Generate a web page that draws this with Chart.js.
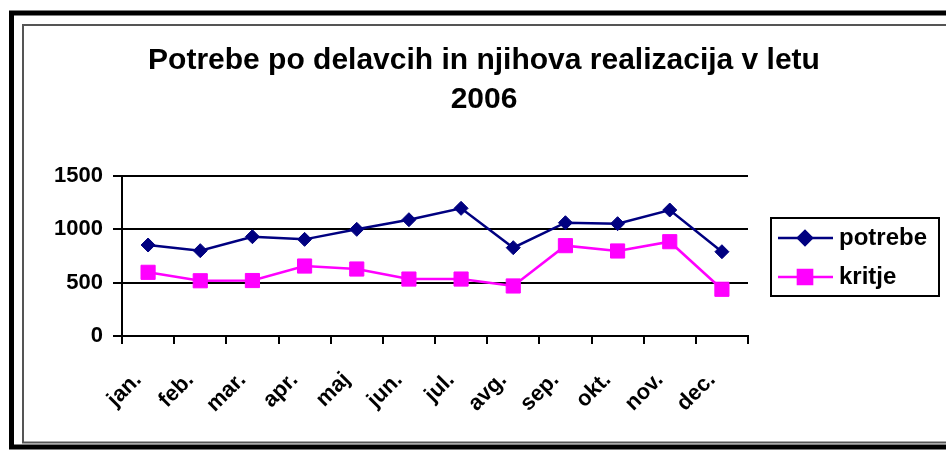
<!DOCTYPE html>
<html>
<head>
<meta charset="utf-8">
<script src="https://cdn.jsdelivr.net/npm/chart.js@4/dist/chart.umd.min.js"></script>
<style>
  body { margin: 0; background: #fff; }
  canvas { display: block; }
</style>
</head>
<body>
<canvas id="mycanvas" width="946" height="450"></canvas>
<script>
// months (x axis)
var months = ['jan.', 'feb.', 'mar.', 'apr.', 'maj', 'jun.', 'jul.', 'avg.', 'sep.', 'okt.', 'nov.', 'dec.'];
// series
var potrebe = [853, 800, 931, 906, 1000, 1090, 1197, 828, 1062, 1053, 1181, 790];
var kritje = [597, 518, 520, 656, 628, 534, 534, 469, 847, 797, 884, 438];
var yTicks = [0, 500, 1000, 1500];
var titleLines = ['Potrebe po delavcih in njihova realizacija v letu', '2006'];

Chart.defaults.font.family = '"Liberation Sans", Arial, sans-serif';
Chart.defaults.color = '#000';

// outer black frame + inner grey frame
var frames = {
  id: 'frames',
  beforeDraw: function(chart) {
    var ctx = chart.ctx;
    ctx.save();
    ctx.fillStyle = '#fff';
    ctx.fillRect(0, 0, chart.width, chart.height);
    ctx.strokeStyle = '#000';
    ctx.lineWidth = 5;
    ctx.strokeRect(11.5, 13, chart.width + 20, 434);
    ctx.strokeStyle = '#555';
    ctx.lineWidth = 2;
    ctx.strokeRect(23, 25, chart.width + 20, 417.5);
    ctx.restore();
  }
};

// legend with line + marker, like the office chart
var lineLegend = {
  id: 'lineLegend',
  afterDraw: function(chart) {
    var ctx = chart.ctx;
    ctx.save();
    ctx.strokeStyle = '#000';
    ctx.lineWidth = 2;
    ctx.strokeRect(771, 218, 168, 78);
    chart.data.datasets.forEach(function(ds, i) {
      var y = 238 + i * 39;
      ctx.strokeStyle = ds.borderColor;
      ctx.lineWidth = 2.5;
      ctx.beginPath();
      ctx.moveTo(778, y);
      ctx.lineTo(833, y);
      ctx.stroke();
      ctx.fillStyle = ds.pointBackgroundColor;
      ctx.strokeStyle = ds.pointBorderColor;
      Chart.helpers.drawPoint(ctx, {
        pointStyle: ds.pointStyle,
        radius: ds.pointRadius,
        rotation: 0,
        borderWidth: 1
      }, 805, y);
      ctx.fillStyle = '#000';
      ctx.font = 'bold 24px "Liberation Sans", Arial, sans-serif';
      ctx.textBaseline = 'middle';
      ctx.textAlign = 'left';
      ctx.fillText(ds.label, 839, y);
    });
    ctx.restore();
  }
};

var chartdata = {
  labels: months,
  datasets: [
    {
      label: 'potrebe',
      data: potrebe,
      borderColor: '#000080',
      backgroundColor: '#000080',
      borderWidth: 2.5,
      pointStyle: 'rectRot',
      pointRadius: 7,
      pointBackgroundColor: '#000080',
      pointBorderColor: '#000080',
      pointBorderWidth: 1,
      fill: false,
      tension: 0
    },
    {
      label: 'kritje',
      data: kritje,
      borderColor: '#ff00ff',
      backgroundColor: '#ff00ff',
      borderWidth: 2.5,
      pointStyle: 'rect',
      pointRadius: 10,
      pointBackgroundColor: '#ff00ff',
      pointBorderColor: '#ff00ff',
      pointBorderWidth: 1,
      fill: false,
      tension: 0
    }
  ]
};

var mycanvas = new Chart(document.getElementById('mycanvas'), {
  type: 'line',
  data: chartdata,
  plugins: [frames, lineLegend],
  options: {
    responsive: false,
    animation: false,
    layout: { padding: { left: 22, right: 0, top: 0, bottom: 0 } },
    plugins: {
      legend: { display: false },
      tooltip: { enabled: false },
      title: {
        display: true,
        text: titleLines,
        font: { size: 30, weight: 'bold', lineHeight: 1.3 },
        color: '#000',
        padding: { top: 41, bottom: 57 }
      }
    },
    scales: {
      x: {
        offset: true,
        grid: {
          offset: true,
          drawOnChartArea: false,
          drawTicks: true,
          tickLength: 8,
          color: '#000',
          lineWidth: 2
        },
        border: { display: true, color: '#000', width: 2 },
        ticks: {
          autoSkip: false,
          minRotation: 45,
          maxRotation: 45,
          padding: 23,
          labelOffset: -10,
          font: { size: 22, weight: 'bold' }
        },
        afterFit: function(scale) { scale.height = 114; }
      },
      y: {
        min: 0,
        max: 1500,
        afterBuildTicks: function(scale) {
          scale.ticks = yTicks.map(function(v) { return { value: v }; });
        },
        grid: {
          color: '#000',
          lineWidth: 2,
          drawTicks: true,
          tickLength: 9
        },
        border: { display: true, color: '#000', width: 2 },
        ticks: {
          padding: 10,
          font: { size: 22, weight: 'bold' },
          callback: function(v) { return String(v); }
        },
        afterFit: function(scale) { scale.width = 100; }
      },
      // empty axis on the right only reserves room for the legend
      side: {
        type: 'linear',
        position: 'right',
        display: true,
        grid: { display: false },
        border: { display: false },
        ticks: { display: false },
        afterFit: function(scale) { scale.width = 198; }
      }
    }
  }
});
</script>
</body>
</html>
